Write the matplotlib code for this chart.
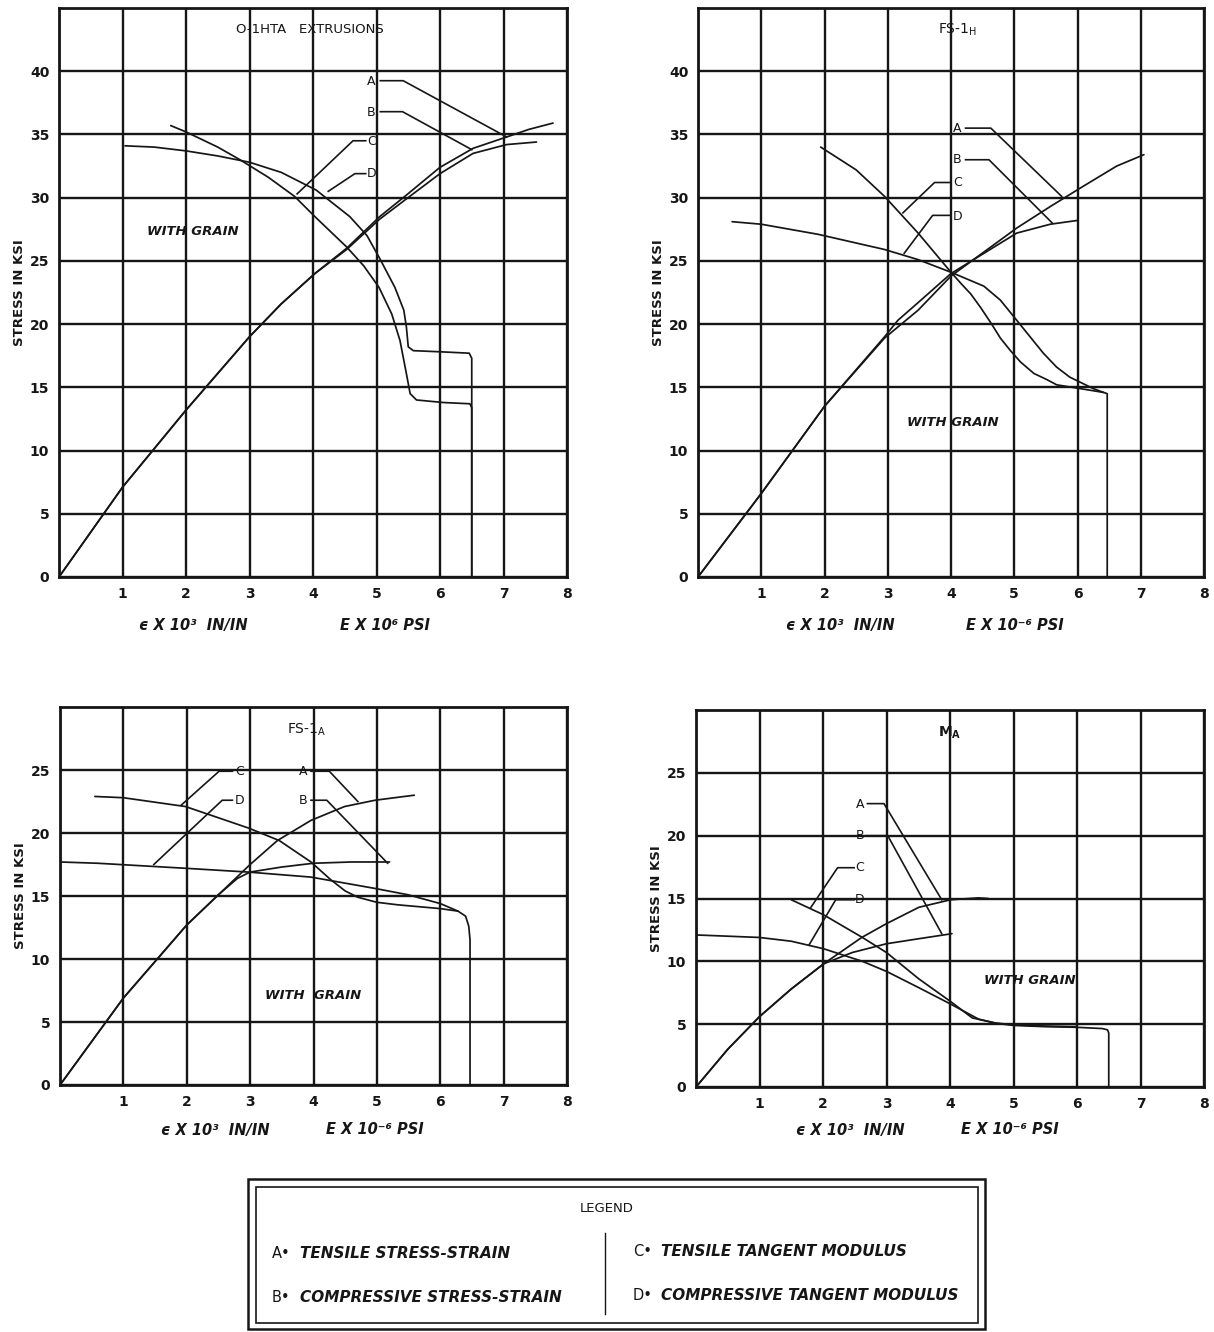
import matplotlib
matplotlib.use("Agg")
import matplotlib.pyplot as plt
from matplotlib.patches import Rectangle
from matplotlib.lines import Line2D

plt.rcParams['font.family'] = ['DejaVu Sans']

# ---------------- O-1HTA extrusions ----------------
o1_a_strain = [0, 1, 2, 3, 3.5, 4.03, 4.53, 5.05, 5.47, 6.0, 6.52, 7.05, 7.4, 7.78]
o1_a_stress = [0, 7.1, 13.2, 19.0, 21.6, 24.0, 26.0, 28.5, 30.2, 32.4, 33.9, 34.8, 35.4, 35.9]
o1_b_strain = [0, 1, 2, 3, 3.5, 4.03, 4.53, 5.05, 5.47, 6.0, 6.52, 7.05, 7.52]
o1_b_stress = [0, 7.1, 13.2, 19.0, 21.6, 24.0, 25.9, 28.3, 29.9, 31.9, 33.5, 34.2, 34.4]
o1_c_modulus = [1.76, 2.0, 2.5, 2.85, 3.3, 3.71, 4.03, 4.53, 4.8, 5.04, 5.24, 5.37, 5.47, 5.53, 5.63, 6.05, 6.47, 6.5, 6.5]
o1_c_stress = [35.7, 35.2, 34.0, 33.0, 31.6, 30.1, 28.5, 26.1, 24.6, 22.9, 20.8, 18.7, 16.1, 14.5, 14.0, 13.8, 13.7, 13.4, 0]
o1_d_modulus = [1.04, 1.5, 2.0, 2.5, 3.0, 3.5, 4.05, 4.58, 4.85, 5.05, 5.29, 5.43, 5.47, 5.5, 5.58, 6.05, 6.46, 6.5, 6.5]
o1_d_stress = [34.1, 34.0, 33.7, 33.3, 32.8, 32.0, 30.6, 28.5, 27.0, 25.2, 22.9, 21.1, 19.8, 18.2, 17.9, 17.8, 17.7, 17.3, 0]

# ---------------- FS-1H ----------------
fsh_a_strain = [0, 1, 2, 2.95, 3.48, 4.0, 4.52, 5.04, 5.57, 6.09, 6.62, 7.05]
fsh_a_stress = [0, 6.6, 13.5, 18.9, 21.1, 23.8, 25.7, 27.6, 29.3, 30.9, 32.5, 33.4]
fsh_b_strain = [0, 1, 2, 2.95, 3.16, 3.48, 4.0, 4.52, 5.04, 5.57, 6.0]
fsh_b_stress = [0, 6.6, 13.5, 19.0, 20.3, 21.7, 24.0, 25.6, 27.2, 27.9, 28.2]
fsh_c_modulus = [1.94, 2.5, 2.95, 3.48, 4.0, 4.16, 4.31, 4.47, 4.63, 4.78, 4.94, 5.10, 5.31, 5.52, 5.67, 6.04, 6.41, 6.47, 6.47]
fsh_c_stress = [34.0, 32.2, 30.1, 27.2, 24.1, 23.2, 22.4, 21.3, 20.1, 18.9, 17.9, 17.0, 16.1, 15.6, 15.2, 14.9, 14.6, 14.5, 0]
fsh_d_modulus = [0.54, 1.0, 1.9, 2.95, 3.48, 4.0, 4.52, 4.78, 5.04, 5.25, 5.46, 5.67, 5.88, 6.25, 6.41]
fsh_d_stress = [28.1, 27.9, 27.1, 25.9, 25.1, 24.1, 23.0, 21.9, 20.3, 19.0, 17.7, 16.6, 15.8, 14.9, 14.6]

# ---------------- FS-1A ----------------
fsa_a_strain = [0, 1, 2, 2.5, 3.0, 3.43, 3.96, 4.49, 4.97, 5.59]
fsa_a_stress = [0, 6.9, 12.7, 15.1, 17.5, 19.4, 21.0, 22.1, 22.6, 23.0]
fsa_b_strain = [0, 1, 2, 2.5, 2.8, 3.0, 3.5, 4.0, 4.6, 5.2]
fsa_b_stress = [0, 6.9, 12.7, 15.1, 16.4, 16.9, 17.3, 17.6, 17.7, 17.7]
fsa_c_modulus = [0.55, 1.0, 1.98, 2.97, 3.46, 3.96, 4.27, 4.50, 4.70, 5.0, 5.33, 6.0, 6.28, 6.40, 6.45, 6.47, 6.47]
fsa_c_stress = [22.9, 22.8, 22.1, 20.4, 19.4, 17.7, 16.3, 15.4, 14.9, 14.5, 14.3, 14.0, 13.8, 13.4, 12.6, 11.5, 0]
fsa_d_modulus = [0, 0.59, 1.98, 2.97, 3.96, 4.97, 5.49, 6.0, 6.28]
fsa_d_stress = [17.7, 17.6, 17.2, 16.9, 16.5, 15.6, 15.1, 14.4, 13.8]

# ---------------- MA ----------------
ma_a_strain = [0, 0.5, 1, 1.5, 2.01, 2.61, 3.0, 3.51, 4.01, 4.45, 4.6]
ma_a_stress = [0, 3.0, 5.6, 7.8, 9.8, 11.9, 13.0, 14.3, 14.9, 15.05, 15.0]
ma_b_strain = [0, 0.5, 1, 1.5, 2.01, 2.46, 3.0, 3.51, 4.03]
ma_b_stress = [0, 3.0, 5.6, 7.8, 9.8, 10.7, 11.4, 11.8, 12.2]
ma_c_modulus = [1.50, 2.01, 2.62, 3.0, 3.51, 4.01, 4.35, 4.7, 5.0, 5.5, 6.0]
ma_c_stress = [14.9, 13.7, 11.9, 10.7, 8.6, 6.8, 5.5, 5.1, 4.95, 4.85, 4.8]
ma_d_modulus = [0, 1.0, 1.5, 2.01, 2.62, 3.0, 3.51, 4.01, 4.45, 4.75, 5.0, 5.5, 6.0, 6.4, 6.48, 6.5, 6.5]
ma_d_stress = [12.1, 11.9, 11.6, 11.0, 10.0, 9.2, 7.9, 6.6, 5.4, 5.05, 4.9, 4.8, 4.75, 4.65, 4.55, 4.3, 0]

x_ticks = [1, 2, 3, 4, 5, 6, 7, 8]
legend_entries = [("A", "TENSILE STRESS-STRAIN"), ("B", "COMPRESSIVE STRESS-STRAIN"),
                  ("C", "TENSILE TANGENT MODULUS"), ("D", "COMPRESSIVE TANGENT MODULUS")]

W, H = 1214, 1332
INK = '#161616'
fig = plt.figure(figsize=(W / 100, H / 100), dpi=100)
fig.patch.set_facecolor('white')


def axes_px(left, top, right, bottom):
    return fig.add_axes([left / W, 1 - bottom / H, (right - left) / W, (bottom - top) / H])


def style_panel(ax, ymax, ytop):
    ax.set_xlim(0, 8)
    ax.set_ylim(0, ymax)
    ax.set_xticks(range(0, 9))
    ax.set_xticklabels([''] + [str(t) for t in x_ticks])
    ax.set_yticks(range(0, ytop + 1, 5))
    ax.set_yticklabels([str(v) for v in range(0, ytop + 1, 5)])
    ax.tick_params(length=0, labelsize=10, pad=7, colors=INK)
    for lab in ax.get_xticklabels() + ax.get_yticklabels():
        lab.set_fontweight('bold')
    ax.grid(True, color=INK, lw=1.7)
    ax.set_axisbelow(True)
    for s in ax.spines.values():
        s.set_linewidth(2.0)
        s.set_color(INK)
    ax.set_ylabel("STRESS IN KSI", fontsize=9.5, fontweight='bold', color=INK, labelpad=3)


def curves(ax, series):
    for xs, ys in series:
        ax.plot(xs, ys, color=INK, lw=1.25, solid_joinstyle='round', solid_capstyle='round', zorder=3)


def leaders(ax, items):
    for letter, (tx, ty), path in items:
        ax.text(tx, ty, letter, fontsize=9, ha='center', va='center', color=INK, zorder=4)
        ax.plot([p[0] for p in path], [p[1] for p in path], color=INK, lw=1.2, zorder=3)


def xlabels(y, x1, x2, second):
    fig.text(x1 / W, 1 - y / H, "\u03f5 X 10\u00b3  IN/IN", fontsize=10.5, fontstyle='italic',
             fontweight='bold', ha='center', va='center', color=INK)
    fig.text(x2 / W, 1 - y / H, second, fontsize=10.5, fontstyle='italic',
             fontweight='bold', ha='center', va='center', color=INK)


grain = dict(fontsize=9.5, fontstyle='italic', fontweight='bold', ha='center', va='center', color=INK)

# ---- Panel: O-1HTA extrusions ----
ax1 = axes_px(59, 8, 567, 577)
style_panel(ax1, 45, 40)
curves(ax1, [(o1_a_strain, o1_a_stress), (o1_b_strain, o1_b_stress),
             (o1_c_modulus, o1_c_stress), (o1_d_modulus, o1_d_stress)])
leaders(ax1, [("A", (4.92, 39.2), [(5.06, 39.25), (5.42, 39.25), (7.05, 34.8)]),
              ("B", (4.92, 36.75), [(5.06, 36.8), (5.41, 36.8), (6.5, 33.8)]),
              ("C", (4.92, 34.45), [(4.83, 34.5), (4.63, 34.5), (3.75, 30.3)]),
              ("D", (4.92, 31.9), [(4.83, 31.9), (4.66, 31.9), (4.24, 30.5)])])
ax1.text(3.95, 43.3, "O-1HTA   EXTRUSIONS", fontsize=9.5, ha='center', va='center', color=INK)
ax1.text(2.1, 27.3, "WITH GRAIN", **grain)
xlabels(625, 193, 385, "E X 10\u2076 PSI")

# ---- Panel: FS-1H ----
ax2 = axes_px(698, 8, 1204, 577)
style_panel(ax2, 45, 40)
curves(ax2, [(fsh_a_strain, fsh_a_stress), (fsh_b_strain, fsh_b_stress),
             (fsh_c_modulus, fsh_c_stress), (fsh_d_modulus, fsh_d_stress)])
leaders(ax2, [("A", (4.10, 35.45), [(4.23, 35.5), (4.63, 35.5), (5.75, 30.1)]),
              ("B", (4.10, 33.05), [(4.23, 33.0), (4.60, 33.0), (5.60, 28.0)]),
              ("C", (4.10, 31.2), [(4.0, 31.2), (3.74, 31.2), (3.24, 28.8)]),
              ("D", (4.10, 28.55), [(4.0, 28.6), (3.71, 28.6), (3.26, 25.6)])])
ax2.text(4.1, 43.3, r"FS-1$\mathregular{_H}$", fontsize=10, ha='center', va='center', color=INK)
ax2.text(4.03, 12.2, "WITH GRAIN", **grain)
xlabels(625, 840, 1015, "E X 10\u207b\u2076 PSI")

# ---- Panel: FS-1A ----
ax3 = axes_px(60, 707, 567, 1085)
style_panel(ax3, 30, 25)
curves(ax3, [(fsa_a_strain, fsa_a_stress), (fsa_b_strain, fsa_b_stress),
             (fsa_c_modulus, fsa_c_stress), (fsa_d_modulus, fsa_d_stress)])
leaders(ax3, [("C", (2.83, 24.85), [(2.72, 24.9), (2.51, 24.9), (1.91, 22.2)]),
              ("D", (2.83, 22.6), [(2.72, 22.6), (2.56, 22.6), (1.48, 17.5)]),
              ("A", (3.83, 24.85), [(3.96, 24.9), (4.25, 24.9), (4.70, 22.5)]),
              ("B", (3.83, 22.6), [(3.96, 22.6), (4.21, 22.6), (5.17, 17.6)])])
ax3.text(3.9, 28.2, r"FS-1$\mathregular{_A}$", fontsize=10, ha='center', va='center', color=INK)
ax3.text(4.0, 7.1, "WITH  GRAIN", **grain)
xlabels(1130, 215, 375, "E X 10\u207b\u2076 PSI")

# ---- Panel: MA ----
ax4 = axes_px(696, 710, 1204, 1087)
style_panel(ax4, 30, 25)
curves(ax4, [(ma_a_strain, ma_a_stress), (ma_b_strain, ma_b_stress),
             (ma_c_modulus, ma_c_stress), (ma_d_modulus, ma_d_stress)])
leaders(ax4, [("A", (2.58, 22.5), [(2.70, 22.55), (2.96, 22.55), (3.87, 14.9)]),
              ("B", (2.58, 20.0), [(2.68, 20.0), (3.02, 20.0), (3.87, 12.2)]),
              ("C", (2.58, 17.45), [(2.49, 17.45), (2.23, 17.45), (1.81, 14.3)]),
              ("D", (2.58, 14.9), [(2.49, 14.9), (2.20, 14.9), (1.78, 11.3)])])
ax4.text(4.0, 28.2, r"M$\mathregular{_A}$", fontsize=10, fontweight='bold', ha='center', va='center', color=INK)
ax4.text(5.25, 8.5, "WITH GRAIN", **grain)
xlabels(1130, 850, 1010, "E X 10\u207b\u2076 PSI")

# ---- Legend box ----
def rect_px(l, t, r, b, lw):
    fig.add_artist(Rectangle((l / W, 1 - b / H), (r - l) / W, (b - t) / H, transform=fig.transFigure,
                             fill=False, lw=lw, edgecolor=INK))

rect_px(248, 1179, 985, 1329, 1.8)
rect_px(256, 1187, 978, 1323, 1.2)
fig.add_artist(Line2D([605 / W, 605 / W], [1 - 1233 / H, 1 - 1314 / H], transform=fig.transFigure,
                      color=INK, lw=1.0))
fig.text(607 / W, 1 - 1208 / H, "LEGEND", fontsize=9.5, ha='center', va='center', color=INK)
legend_pos = [(272, 1253), (272, 1297), (633, 1252), (633, 1296)]
for (letter, desc), (lx, ly) in zip(legend_entries, legend_pos):
    fig.text(lx / W, 1 - ly / H, letter + "\u2022", fontsize=10.5, ha='left', va='center', color=INK)
    fig.text((lx + 28) / W, 1 - ly / H, desc, fontsize=11, fontstyle='italic', fontweight='bold',
             ha='left', va='center', color=INK)

fig.savefig("out.png", dpi=100, facecolor='white')
